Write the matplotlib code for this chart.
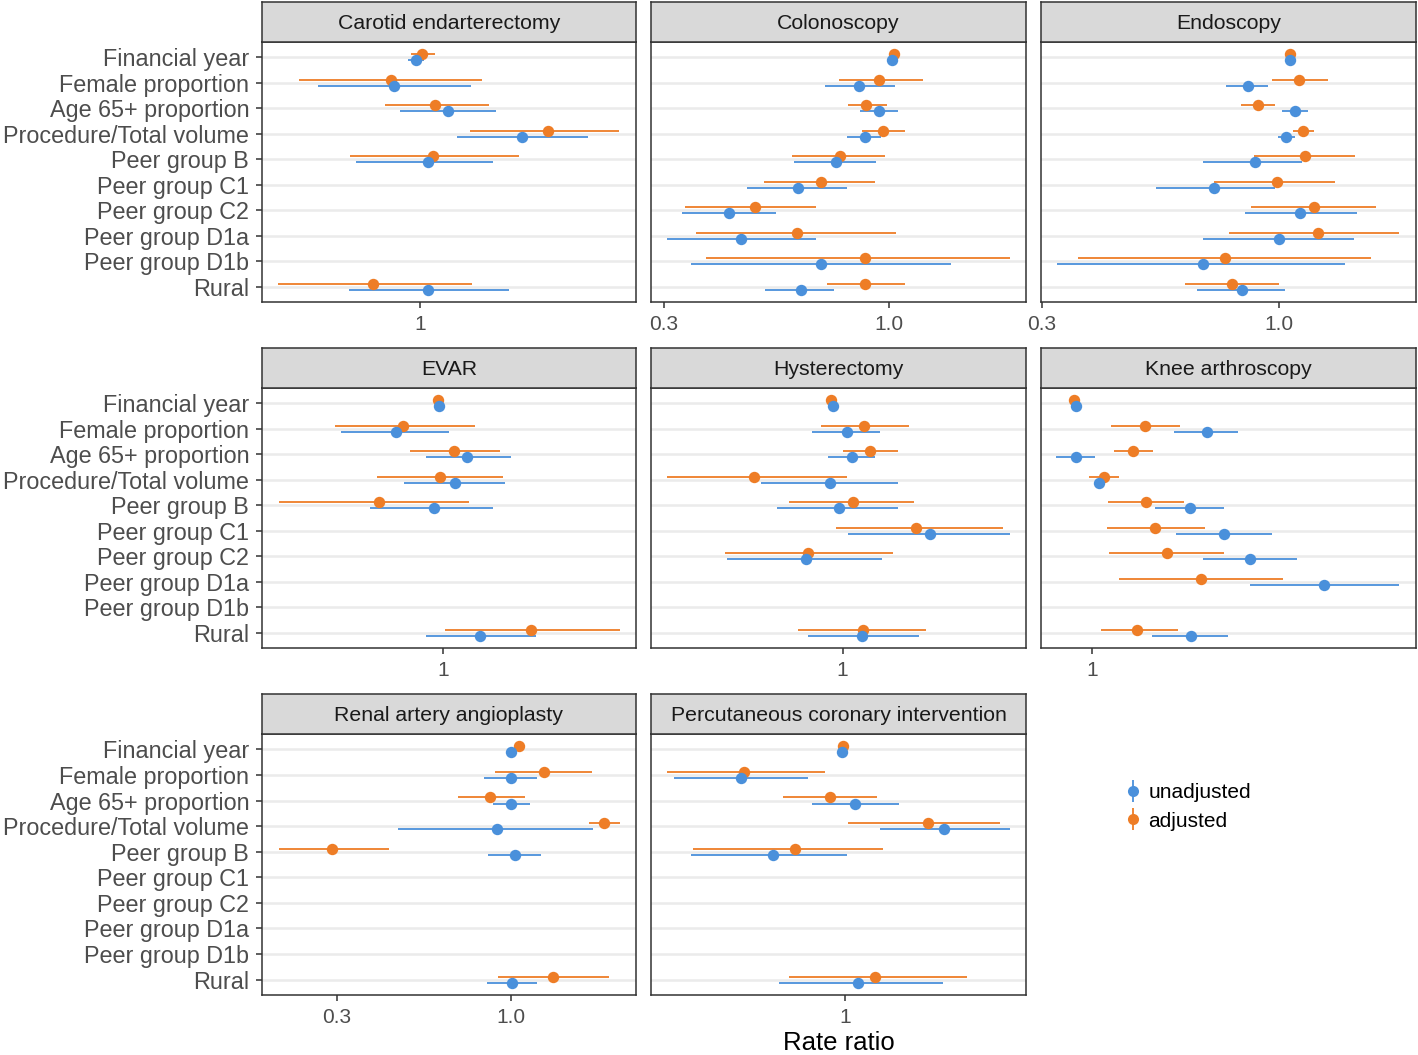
import numpy as np
import matplotlib
matplotlib.use('Agg')
import matplotlib.pyplot as plt
from matplotlib.lines import Line2D
from matplotlib.legend_handler import HandlerTuple
from matplotlib.ticker import NullLocator

plt.rcParams['font.family'] = ['Liberation Sans', 'DejaVu Sans']

nan = np.nan

CATEGORIES = ["Financial year", "Female proportion", "Age 65+ proportion",
              "Procedure/Total volume", "Peer group B", "Peer group C1",
              "Peer group C2", "Peer group D1a", "Peer group D1b", "Rural"]

SERIES = ["unadjusted", "adjusted"]
COLORS = {"unadjusted": "#4A90DB", "adjusted": "#EE7D26"}

# ---- Carotid endarterectomy ----
CAROTID_U    = [0.982, 0.887, 1.139, 1.600, 1.038, nan, nan, nan, nan, 1.038]
CAROTID_U_LO = [0.946, 0.625, 0.911, 1.184, 0.745, nan, nan, nan, nan, 0.720]
CAROTID_U_HI = [1.019, 1.265, 1.421, 2.175, 1.402, nan, nan, nan, nan, 1.507]
CAROTID_A    = [1.011, 0.876, 1.073, 1.806, 1.063, nan, nan, nan, nan, 0.807]
CAROTID_A_LO = [0.958, 0.572, 0.850, 1.259, 0.723, nan, nan, nan, nan, 0.520]
CAROTID_A_HI = [1.072, 1.332, 1.374, 2.504, 1.578, nan, nan, nan, nan, 1.273]

# ---- Colonoscopy ----
COLON_U    = [1.018, 0.850, 0.946, 0.879, 0.752, 0.615, 0.424, 0.454, 0.697, 0.623]
COLON_U_LO = [1.005, 0.709, 0.856, 0.798, 0.600, 0.468, 0.330, 0.305, 0.346, 0.516]
COLON_U_HI = [1.031, 1.033, 1.047, 0.961, 0.931, 0.800, 0.546, 0.678, 1.395, 0.744]
COLON_A    = [1.027, 0.949, 0.884, 0.967, 0.770, 0.695, 0.487, 0.612, 0.878, 0.881]
COLON_A_LO = [1.012, 0.764, 0.802, 0.864, 0.595, 0.512, 0.336, 0.356, 0.375, 0.716]
COLON_A_HI = [1.042, 1.202, 0.991, 1.092, 0.977, 0.929, 0.678, 1.038, 1.908, 1.090]

# ---- Endoscopy ----
ENDO_U    = [1.057, 0.852, 1.083, 1.034, 0.884, 0.718, 1.109, 1.000, 0.679, 0.830]
ENDO_U_LO = [1.045, 0.763, 1.014, 0.992, 0.678, 0.535, 0.839, 0.678, 0.325, 0.660]
ENDO_U_HI = [1.069, 0.946, 1.157, 1.081, 1.124, 0.978, 1.480, 1.458, 1.395, 1.031]
ENDO_A    = [1.054, 1.103, 0.898, 1.127, 1.141, 0.988, 1.194, 1.219, 0.758, 0.786]
ENDO_A_LO = [1.040, 0.964, 0.822, 1.070, 0.878, 0.717, 0.868, 0.776, 0.361, 0.621]
ENDO_A_HI = [1.068, 1.278, 0.978, 1.190, 1.465, 1.324, 1.630, 1.838, 1.589, 0.998]

# ---- EVAR ----
EVAR_U    = [0.982, 0.807, 1.115, 1.057, 0.961, nan, nan, nan, nan, 1.186]
EVAR_U_LO = [0.970, 0.624, 0.926, 0.837, 0.716, nan, nan, nan, nan, 0.925]
EVAR_U_HI = [0.994, 1.026, 1.366, 1.332, 1.261, nan, nan, nan, nan, 1.535]
EVAR_A    = [0.979, 0.833, 1.050, 0.985, 0.745, nan, nan, nan, nan, 1.500]
EVAR_A_LO = [0.967, 0.608, 0.858, 0.738, 0.469, nan, nan, nan, nan, 1.011]
EVAR_A_HI = [0.991, 1.157, 1.302, 1.318, 1.127, nan, nan, nan, nan, 2.256]

# ---- Hysterectomy ----
HYST_U    = [0.958, 1.019, 1.044, 0.943, 0.985, 1.491, 0.846, nan, nan, 1.095]
HYST_U_LO = [0.946, 0.870, 0.935, 0.687, 0.741, 1.026, 0.587, nan, nan, 0.852]
HYST_U_HI = [0.970, 1.186, 1.159, 1.292, 1.290, 2.154, 1.200, nan, nan, 1.423]
HYST_A    = [0.949, 1.102, 1.132, 0.666, 1.047, 1.400, 0.855, nan, nan, 1.096]
HYST_A_LO = [0.937, 0.905, 1.000, 0.447, 0.782, 0.968, 0.583, nan, nan, 0.814]
HYST_A_HI = [0.961, 1.355, 1.288, 1.020, 1.385, 2.089, 1.261, nan, nan, 1.463]

# ---- Knee arthroscopy ----
KNEE_U    = [0.956, 1.391, 0.956, 1.020, 1.326, 1.461, 1.574, 1.946, nan, 1.328]
KNEE_U_LO = [0.948, 1.266, 0.903, 1.008, 1.198, 1.271, 1.375, 1.574, nan, 1.188]
KNEE_U_HI = [0.964, 1.522, 1.010, 1.032, 1.459, 1.676, 1.800, 2.415, nan, 1.476]
KNEE_A    = [0.950, 1.166, 1.126, 1.035, 1.167, 1.199, 1.240, 1.368, nan, 1.138]
KNEE_A_LO = [0.942, 1.056, 1.064, 0.993, 1.048, 1.045, 1.050, 1.081, nan, 1.025]
KNEE_A_HI = [0.958, 1.289, 1.190, 1.081, 1.303, 1.384, 1.461, 1.731, nan, 1.281]

# ---- Renal artery angioplasty ----
RENAL_U    = [0.998, 1.000, 1.002, 0.907, 1.026, nan, nan, nan, nan, 1.007]
RENAL_U_LO = [0.985, 0.833, 0.881, 0.457, 0.853, nan, nan, nan, nan, 0.845]
RENAL_U_HI = [1.011, 1.198, 1.138, 1.762, 1.231, nan, nan, nan, nan, 1.198]
RENAL_A    = [1.057, 1.257, 0.863, 1.901, 0.290, nan, nan, nan, nan, 1.338]
RENAL_A_LO = [1.040, 0.895, 0.694, 1.718, 0.200, nan, nan, nan, nan, 0.916]
RENAL_A_HI = [1.074, 1.758, 1.099, 2.129, 0.429, nan, nan, nan, nan, 1.968]

# ---- Percutaneous coronary intervention ----
PCI_U    = [0.988, 0.621, 1.047, 1.580, 0.718, nan, nan, nan, nan, 1.065]
PCI_U_LO = [0.978, 0.456, 0.860, 1.173, 0.494, nan, nan, nan, nan, 0.740]
PCI_U_HI = [0.998, 0.845, 1.282, 2.135, 1.012, nan, nan, nan, nan, 1.568]
PCI_A    = [0.992, 0.631, 0.935, 1.463, 0.794, nan, nan, nan, nan, 1.147]
PCI_A_LO = [0.982, 0.442, 0.754, 1.015, 0.498, nan, nan, nan, nan, 0.773]
PCI_A_HI = [1.002, 0.915, 1.159, 2.042, 1.190, nan, nan, nan, nan, 1.751]

PANEL_TITLES = ["Carotid endarterectomy", "Colonoscopy", "Endoscopy", "EVAR",
                "Hysterectomy", "Knee arthroscopy", "Renal artery angioplasty",
                "Percutaneous coronary intervention"]

PANEL_DATA = [
    (CAROTID_U, CAROTID_U_LO, CAROTID_U_HI, CAROTID_A, CAROTID_A_LO, CAROTID_A_HI),
    (COLON_U, COLON_U_LO, COLON_U_HI, COLON_A, COLON_A_LO, COLON_A_HI),
    (ENDO_U, ENDO_U_LO, ENDO_U_HI, ENDO_A, ENDO_A_LO, ENDO_A_HI),
    (EVAR_U, EVAR_U_LO, EVAR_U_HI, EVAR_A, EVAR_A_LO, EVAR_A_HI),
    (HYST_U, HYST_U_LO, HYST_U_HI, HYST_A, HYST_A_LO, HYST_A_HI),
    (KNEE_U, KNEE_U_LO, KNEE_U_HI, KNEE_A, KNEE_A_LO, KNEE_A_HI),
    (RENAL_U, RENAL_U_LO, RENAL_U_HI, RENAL_A, RENAL_A_LO, RENAL_A_HI),
    (PCI_U, PCI_U_LO, PCI_U_HI, PCI_A, PCI_A_LO, PCI_A_HI),
]

PANEL_XLIM = [(0.482, 2.708), (0.2798, 2.083), (0.299, 2.0), (0.434, 2.43),
              (0.415, 2.32), (0.864, 2.534), (0.178, 2.379), (0.411, 2.297)]
PANEL_TICKS = [[1], [0.3, 1.0], [0.3, 1.0], [1], [1], [1], [0.3, 1.0], [1]]
PANEL_TICKLABELS = [["1"], ["0.3", "1.0"], ["0.3", "1.0"], ["1"], ["1"], ["1"],
                    ["0.3", "1.0"], ["1"]]

# ---- layout (pixels) ----
W, H = 1418, 1055
COLS = [(261.7, 636), (651, 1026), (1041, 1416)]
ROWS = [(42, 302), (388, 648), (734, 995)]
STRIP_H = 40


def rect(x0, x1, y0, y1):
    return [x0 / W, 1 - y1 / H, (x1 - x0) / W, (y1 - y0) / H]


fig = plt.figure(figsize=(W / 100, H / 100), dpi=100)

ypos = np.arange(len(CATEGORIES))
DODGE = 0.12
EDGE = "#333333"

for i, title in enumerate(PANEL_TITLES):
    r, c = divmod(i, 3)
    x0, x1 = COLS[c]
    y0, y1 = ROWS[r]
    ax = fig.add_axes(rect(x0, x1, y0, y1))
    u, ulo, uhi, a, alo, ahi = [np.array(v, dtype=float) for v in PANEL_DATA[i]]

    # adjusted first, then unadjusted on top
    for est, lo, hi, off, key in [(a, alo, ahi, -DODGE, "adjusted"),
                                  (u, ulo, uhi, DODGE, "unadjusted")]:
        yy = ypos + off
        m = ~np.isnan(est)
        ax.hlines(yy[m], lo[m], hi[m], color=COLORS[key], lw=1.3, zorder=3)
        ax.plot(est[m], yy[m], 'o', ms=8.2, color=COLORS[key], mec='none', zorder=4)

    ax.set_xscale('log')
    ax.set_xlim(*PANEL_XLIM[i])
    ax.set_xticks(PANEL_TICKS[i])
    ax.set_xticklabels(PANEL_TICKLABELS[i])
    ax.xaxis.set_minor_locator(NullLocator())
    ax.set_ylim(len(CATEGORIES) - 1 + 0.6, -0.6)
    ax.set_yticks(ypos)
    ax.set_yticklabels(CATEGORIES)
    ax.yaxis.grid(True, color='#EBEBEB', lw=1.8)
    ax.set_axisbelow(True)
    ax.tick_params(axis='both', colors=EDGE, labelcolor='#4D4D4D', labelsize=15,
                   length=4, width=1.1)
    ax.tick_params(axis='x', pad=5.5)
    ax.tick_params(axis='y', labelsize=16.8, pad=5)
    if c != 0:
        ax.tick_params(axis='y', left=False, labelleft=False)
    for s in ax.spines.values():
        s.set_color(EDGE)
        s.set_linewidth(1.1)

    sax = fig.add_axes(rect(x0, x1, y0 - STRIP_H, y0))
    sax.set_facecolor('#D9D9D9')
    sax.set_xticks([])
    sax.set_yticks([])
    for s in sax.spines.values():
        s.set_color(EDGE)
        s.set_linewidth(1.1)
    sax.text(0.5, 0.46, title, ha='center', va='center', fontsize=15.3,
             color='#1A1A1A', transform=sax.transAxes)

fig.text(838.5 / W, 1 - 1043 / H, "Rate ratio", ha='center', va='center',
         fontsize=18.5, color='black')

handles = []
for key in SERIES:
    h = (Line2D([], [], marker='|', ms=16, mew=1.3, color=COLORS[key], ls=''),
         Line2D([], [], marker='o', ms=8, color=COLORS[key], mec='none', ls=''))
    handles.append(h)
fig.legend(handles, SERIES, handler_map={tuple: HandlerTuple(ndivide=1, pad=0)},
           loc='upper left', bbox_to_anchor=(1116 / W, 1 - 775 / H),
           frameon=False, fontsize=15, handlelength=0.8, handletextpad=0.35,
           labelspacing=0.45, borderaxespad=0)

fig.savefig('out.png', dpi=100)
